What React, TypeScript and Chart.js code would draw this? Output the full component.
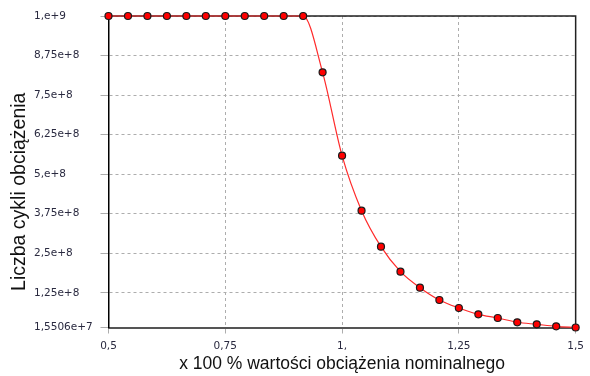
import React, { useEffect, useRef } from 'react';
import { Chart, registerables } from 'chart.js';

Chart.register(...registerables);

const xValues = [
  0.5, 0.5417, 0.5833, 0.625, 0.6667, 0.7083, 0.75, 0.7917, 0.8333, 0.875, 0.9167,
  0.9583, 1.0, 1.0417, 1.0833, 1.125, 1.1667, 1.2083, 1.25, 1.2917, 1.3333, 1.375,
  1.4167, 1.4583, 1.5,
];
const yValues = [
  1000000000, 1000000000, 1000000000, 1000000000, 1000000000, 1000000000, 1000000000,
  1000000000, 1000000000, 1000000000, 1000000000,
  822000000, 558500000, 384700000, 270900000, 191900000, 141300000, 102400000,
  77100000, 57200000, 45500000, 32000000, 25600000, 19300000, 15506000,
];
const xTicks = [0.5, 0.75, 1, 1.25, 1.5];
const xTickLabels = ['0,5', '0,75', '1,', '1,25', '1,5'];
const yTicks = [
  15506000, 125000000, 250000000, 375000000, 500000000, 625000000, 750000000,
  875000000, 1000000000,
];
const yTickLabels = [
  '1,5506e+7', '1,25e+8', '2,5e+8', '3,75e+8', '5,e+8', '6,25e+8', '7,5e+8',
  '8,75e+8', '1,e+9',
];
const xTitle = 'x 100 % wartości obciążenia nominalnego';
const yTitle = 'Liczba cykli obciążenia';

const framePlugin = {
  id: 'frame',
  beforeDatasetsDraw(chart: any) {
    const { ctx, chartArea: a } = chart;
    ctx.save();
    ctx.strokeStyle = '#222222';
    ctx.lineWidth = 1.5;
    ctx.beginPath();
    ctx.moveTo(a.left, a.top);
    ctx.lineTo(a.right, a.top);
    ctx.lineTo(a.right, a.bottom);
    ctx.stroke();
    ctx.restore();
  },
};

const yTitlePlugin = {
  id: 'yTitle',
  afterDraw(chart: any) {
    const { ctx, chartArea: a } = chart;
    ctx.save();
    ctx.translate(20, (a.top + a.bottom) / 2 + 20);
    ctx.rotate(-Math.PI / 2);
    ctx.textAlign = 'center';
    ctx.textBaseline = 'middle';
    ctx.fillStyle = '#111111';
    ctx.font = "19.5px 'Liberation Sans', Arial, sans-serif";
    ctx.fillText(yTitle, 0, 0);
    ctx.restore();
  },
};

export default function App() {
  const ref = useRef<HTMLCanvasElement | null>(null);

  useEffect(() => {
    if (!ref.current) return;
    const tickFont = { family: "'DejaVu Sans', sans-serif", size: 10.5 };
    const chart = new Chart(ref.current, {
      type: 'line',
      data: {
        datasets: [
          {
            data: xValues.map((x, i) => ({ x, y: yValues[i] })),
            borderColor: '#ff2a2a',
            borderWidth: 1.2,
            pointBackgroundColor: '#ff0000',
            pointBorderColor: '#1a1a1a',
            pointBorderWidth: 1.2,
            pointRadius: 3.5,
            cubicInterpolationMode: 'monotone',
            clip: false,
          } as any,
        ],
      },
      options: {
        animation: false,
        responsive: false,
        devicePixelRatio: 1,
        layout: { padding: { left: 34, top: 16, right: 12.5, bottom: 0 } },
        plugins: { legend: { display: false }, tooltip: { enabled: false } },
        scales: {
          x: {
            type: 'linear',
            min: 0.5,
            max: 1.5,
            afterBuildTicks: (s: any) => {
              s.ticks = xTicks.map((v) => ({ value: v }));
            },
            afterFit: (s: any) => {
              s.height = 48.5;
            },
            ticks: {
              font: tickFont,
              color: '#2a2a40',
              padding: 6,
              maxRotation: 0,
              autoSkip: false,
              callback: (v: any) => {
                const i = xTicks.indexOf(Number(v));
                return i >= 0 ? xTickLabels[i] : '';
              },
            },
            grid: {
              color: '#adadad',
              lineWidth: 1,
              tickLength: 6,
              tickBorderDash: [],
            },
            border: { display: true, color: '#555555', width: 2, dash: [3, 3] },
            title: {
              display: true,
              text: xTitle,
              color: '#111111',
              font: { family: "'Liberation Sans', Arial, sans-serif", size: 17.5 },
              padding: { top: 0, bottom: 1.5 },
            },
          } as any,
          y: {
            type: 'linear',
            min: 15506000,
            max: 1000000000,
            afterBuildTicks: (s: any) => {
              s.ticks = yTicks.map((v) => ({ value: v }));
            },
            afterFit: (s: any) => {
              s.width = 74.5;
            },
            ticks: {
              font: tickFont,
              color: '#2a2a40',
              crossAlign: 'far',
              autoSkip: false,
              callback: (v: any) => {
                const i = yTicks.indexOf(Number(v));
                return i >= 0 ? yTickLabels[i] : '';
              },
            },
            grid: {
              color: '#adadad',
              lineWidth: 1,
              tickLength: 8,
              tickBorderDash: [],
            },
            border: { display: true, color: '#000000', width: 1.5, dash: [3, 3] },
          } as any,
        },
      },
      plugins: [framePlugin, yTitlePlugin],
    });
    return () => chart.destroy();
  }, []);

  return (
    <div style={{ position: 'absolute', left: 0, top: 0, width: 590, height: 376, background: '#fff' }}>
      <canvas ref={ref} width={590} height={376} style={{ display: 'block' }} />
    </div>
  );
}
